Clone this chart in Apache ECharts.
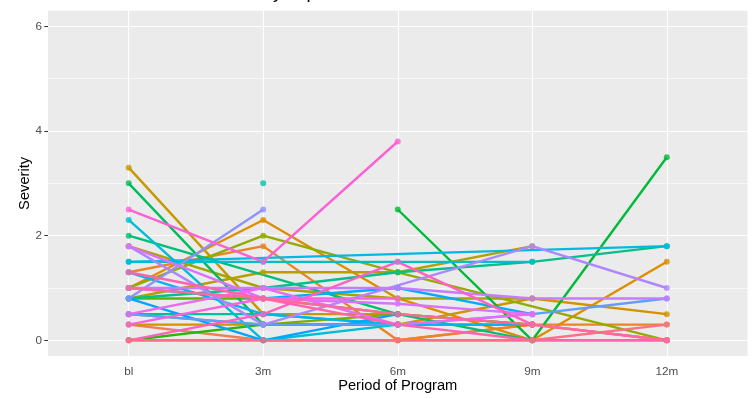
<!DOCTYPE html>
<html>
<head>
<meta charset="utf-8">
<script src="https://cdn.jsdelivr.net/npm/echarts@6/dist/echarts.min.js"></script>
<style>
  html, body { margin: 0; padding: 0; background: #ffffff; }
  #chart { width: 754px; height: 399px; }
</style>
</head>
<body>
<div id="chart"></div>
<script>
// Assessment periods (x axis categories)
const periods = ['bl', '3m', '6m', '9m', '12m'];

// Severity per subject at each period (null = not assessed)
const sevBL  = [0,   0.3, 1.3, 1.0, 0.3, 3.3, 0.8, 1.8, 1.0, 0.5, 0.8, 0,   null, 3.0, 2.0, 0.8, 0.5, null, 1.5, 2.3, 1.5, 1.3, 1.0, 0.8, 0.5, 0.8, 1.8, 1.0, 1.8, 0.5, 0.3, 2.5, 0,   1.3, 1.0, 0];
const sev3m  = [0,   0,   1.8, 2.3, 0.3, 0.5, 1.3, 1.0, 2.0, 0.3, 0.8, 0.3, null, 0.3, null, 1.0, 0.5, 3.0, 1.5, 0,   null, 0.5, 0.8, 0,   0.3, 2.5, 0.3, 1.0, 0.8, 1.0, 0.8, 1.5, 0.5, 0.8, 0.8, 0];
const sev6m  = [0,   0,   0,   0.8, 0.3, 0.5, 1.3, 0.8, 1.3, 0.5, 0.5, 0.3, 2.5, 0.3, 0.5, 1.3, 0.3, null, 1.5, 0.3, null, 0.3, 1.0, 0.5, 0.3, null, null, 1.0, 0.7, 0.3, 0.8, 3.8, 1.5, 0.3, 0.5, 0];
const sev9m  = [0,   0.3, 0.3, 0,   0.8, null, 1.8, 0.8, null, 0.3, 0.3, null, 0,   null, 0,   1.5, 0.3, null, 1.5, null, null, 0.3, 0.5, null, 0.5, null, 1.8, 0.8, 0.5, 0.5, null, null, 0.3, 0,   0.3, 0];
const sev12m = [0,   0,   0.3, 1.5, 0.5, null, null, null, 0,   null, null, null, 3.5, null, null, 1.8, null, null, null, null, 1.8, null, null, null, 0.8, null, 1.0, 0.8, null, null, null, null, 0,   0,   0,   0.3];

// Axis ticks
const yTicks = [0, 2, 4, 6];
const yMinor = [1, 3, 5];

// Default discrete hue palette: hcl(h, c = 100, l = 65), evenly spaced hues
function hclHex(h, c, l) {
  const WU = 0.1978398, WV = 0.4683363, WY = 100;
  const hr = h * Math.PI / 180;
  const U = c * Math.cos(hr), V = c * Math.sin(hr);
  const Y = WY * (l > 7.999592 ? Math.pow((l + 16) / 116, 3) : l / 903.3);
  const u = U / (13 * l) + WU, v = V / (13 * l) + WV;
  const X = 9.0 * Y * u / (4 * v);
  const Z = -X / 3 - 5 * Y + 3 * Y / v;
  const gam = t => t > 0.00304 ? 1.055 * Math.pow(t, 1 / 2.4) - 0.055 : 12.92 * t;
  let r = gam((3.240479 * X - 1.537150 * Y - 0.498535 * Z) / WY);
  let g = gam((-0.969256 * X + 1.875992 * Y + 0.041556 * Z) / WY);
  let b = gam((0.055648 * X - 0.204043 * Y + 1.057311 * Z) / WY);
  const hx = t => {
    const n = Math.round(Math.min(1, Math.max(0, t)) * 255);
    return n.toString(16).padStart(2, '0');
  };
  return '#' + hx(r) + hx(g) + hx(b);
}
const nSubj = sevBL.length;
const palette = [];
for (let i = 0; i < nSubj; i++) palette.push(hclHex(15 + 360 * i / nSubj, 100, 65));

const byPeriod = [sevBL, sev3m, sev6m, sev9m, sev12m];

const series = [];
// Lines first (all subjects), then points on top
for (let i = 0; i < nSubj; i++) {
  const pts = [];
  byPeriod.forEach((arr, k) => { if (arr[i] !== null) pts.push([k + 1, arr[i]]); });
  series.push({
    type: 'line', data: pts, showSymbol: false, symbol: 'none',
    lineStyle: { color: palette[i], width: 2.4 }, z: 10, silent: true, animation: false
  });
}
for (let i = 0; i < nSubj; i++) {
  const pts = [];
  byPeriod.forEach((arr, k) => { if (arr[i] !== null) pts.push([k + 1, arr[i]]); });
  series.push({
    type: 'scatter', data: pts, symbol: 'circle', symbolSize: 6,
    itemStyle: { color: palette[i] }, z: 11, silent: true, animation: false
  });
}

// Panel grid lines, drawn beneath the data
const gridLines = [];
yMinor.forEach(v => gridLines.push({ yAxis: v, lineStyle: { color: '#ffffff', width: 0.6, type: 'solid' } }));
yTicks.forEach(v => gridLines.push({ yAxis: v, lineStyle: { color: '#ffffff', width: 1.1, type: 'solid' } }));
periods.forEach((p, k) => gridLines.push({ xAxis: k + 1, lineStyle: { color: '#ffffff', width: 1.1, type: 'solid' } }));
series.unshift({
  type: 'line', data: [], z: 1, silent: true, animation: false,
  markLine: { z: 1, silent: true, symbol: ['none', 'none'], label: { show: false }, animation: false, data: gridLines }
});

const chart = echarts.init(document.getElementById('chart'), null, { renderer: 'canvas' });
chart.setOption({
  animation: false,
  backgroundColor: '#ffffff',
  grid: {
    left: 48, right: 6.5, top: 10.7, bottom: 43, outerBoundsMode: 'none',
    show: true, backgroundColor: '#EBEBEB', borderWidth: 0
  },
  xAxis: {
    type: 'value', min: 0.4, max: 5.6,
    name: 'Period of Program', nameLocation: 'middle', nameGap: 22, nameMoveOverlap: false,
    nameTextStyle: { color: '#000000', fontSize: 14.7, fontFamily: 'Liberation Sans, Arial, sans-serif' },
    axisLine: { show: false }, splitLine: { show: false },
    axisTick: { show: true, customValues: [1, 2, 3, 4, 5], length: 3.7, lineStyle: { color: '#333333', width: 1 } },
    axisLabel: {
      customValues: [1, 2, 3, 4, 5], margin: 10,
      formatter: v => periods[Math.round(v) - 1] || '',
      color: '#4D4D4D', fontSize: 11.7, fontFamily: 'Liberation Sans, Arial, sans-serif'
    }
  },
  yAxis: {
    type: 'value', min: -0.3, max: 6.3,
    name: 'Severity', nameLocation: 'middle', nameGap: 16, nameRotate: 90, nameMoveOverlap: false,
    nameTextStyle: { color: '#000000', fontSize: 14.7, fontFamily: 'Liberation Sans, Arial, sans-serif' },
    axisLine: { show: false }, splitLine: { show: false },
    axisTick: { show: true, customValues: yTicks, length: 3.7, lineStyle: { color: '#333333', width: 1 } },
    axisLabel: {
      customValues: yTicks, margin: 6,
      color: '#4D4D4D', fontSize: 11.7, fontFamily: 'Liberation Sans, Arial, sans-serif'
    }
  },
  graphic: [{
    type: 'text', left: 48, top: -16, silent: true,
    style: {
      text: 'Individual Course of Severity in patients',
      fill: '#000000', font: '18.4px "Liberation Sans", Arial, sans-serif'
    }
  }],
  series: series
});
</script>
</body>
</html>
